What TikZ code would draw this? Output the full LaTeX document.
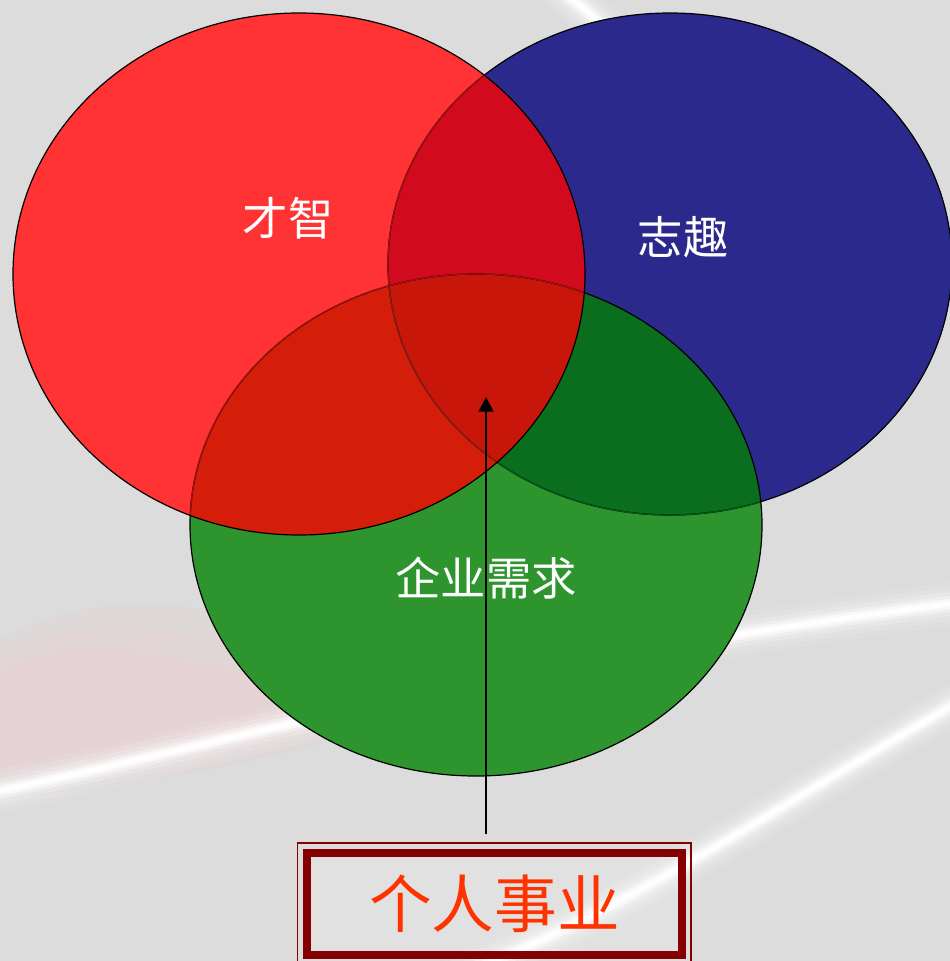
\documentclass[tikz,border=0pt]{standalone}
\usepackage{fontspec}
\newfontfamily\cjk{Noto Sans CJK SC}
\usetikzlibrary{arrows.meta}
\definecolor{bgc}{HTML}{DCDCDC}
\definecolor{rc}{HTML}{FF3333}
\definecolor{bc}{HTML}{2B2A8C}
\definecolor{gc}{HTML}{2E952E}
\definecolor{rbc}{HTML}{D20A1E}
\definecolor{rgc}{HTML}{D41E0A}
\definecolor{bgcc}{HTML}{0A6E1E}
\definecolor{rbgc}{HTML}{C8170A}
\definecolor{darkredline}{HTML}{A01212}
\definecolor{darkgreenline}{HTML}{06561A}
\definecolor{boxc}{HTML}{850000}
\definecolor{titlec}{HTML}{FF3300}
\definecolor{pinkc}{HTML}{F2C8CC}
\tikzset{
  circlabel/.style={text=white, font=\cjk\fontsize{34}{40}\selectfont, inner sep=0pt},
  outline/.style={draw=black, line width=0.9pt},
  titlebox/.style={draw=boxc, line width=6pt, fill=white, fill opacity=0.15, text opacity=1,
     minimum width=281pt, minimum height=77pt, inner sep=0pt,
     text=titlec, font=\cjk\fontsize{47}{52}\selectfont},
  swoosh/.style={draw=white, line cap=round},
}
\begin{document}
\begin{tikzpicture}[x=0.75pt, y=-0.75pt]
\useasboundingbox (0,0) rectangle (950,961);
% background
\fill[bgc] (0,0) rectangle (950,961);
\foreach \s in {1.0,0.8,0.6}{
\fill[pinkc, opacity=0.18] (0,{720-80*\s}) .. controls ({120*\s},{720-150*\s}) and ({300*\s},{720-110*\s}) .. ({200+220*\s},700)
   .. controls ({200+130*\s},{720+40*\s}) and ({150*\s},{720+60*\s}) .. (0,{720+80*\s}) -- cycle;
}
\foreach \w/\o in {44/0.08, 34/0.12, 24/0.2, 16/0.35, 10/0.6, 5/0.9}{
  \draw[swoosh, line width=\w*0.75pt, opacity=\o] (-20,795) .. controls (200,750) and (500,660) .. (980,600);
  \draw[swoosh, line width=\w*0.75pt, opacity=\o] (460,975) .. controls (650,900) and (800,790) .. (980,690);
  \draw[swoosh, line width=\w*0.75pt, opacity=\o] (560,-10) .. controls (600,20) and (630,50) .. (660,90);
}
% ellipses
\def\R{(299,274) ellipse [x radius=286, y radius=261]}
\def\B{(670,264) ellipse [x radius=282, y radius=251]}
\def\G{(476,525) ellipse [x radius=286, y radius=251]}
\fill[bc] \B;
\fill[gc] \G;
\fill[rc] \R;
\begin{scope}\clip \B; \fill[bgcc] \G; \end{scope}
\begin{scope}\clip \R; \fill[rbc] \B; \end{scope}
\begin{scope}\clip \R; \fill[rgc] \G; \end{scope}
\begin{scope}\clip \R; \clip \B; \fill[rbgc] \G; \end{scope}
% outlines
\draw[outline] \B;
\begin{scope}\clip \G; \draw[line width=0.9pt, draw=darkgreenline] \B; \end{scope}
\draw[outline] \G;
\begin{scope}\clip \R; \draw[line width=0.9pt, draw=darkredline] \B; \draw[line width=0.9pt, draw=darkredline] \G; \end{scope}
\draw[outline] \R;
% labels
\node[circlabel] (lt) at (288,218) {才智};
\node[circlabel] (lz) at (683,237) {志趣};
\node[circlabel] (lq) at (486,578) {企业需求};
% title box
\node[titlebox] (box) at (494.5,904) {个人事业};
\draw[draw=boxc, line width=1.1pt] ([xshift=-4.2pt, yshift=4.2pt]box.north west) rectangle ([xshift=4pt, yshift=-6pt]box.south east);
% arrow
\coordinate (tip) at (486,397);
\draw[line width=2pt, -{Triangle[width=11pt, length=11pt]}, shorten <=11pt] (box.north -| tip) -- (tip);
\end{tikzpicture}
\end{document}
